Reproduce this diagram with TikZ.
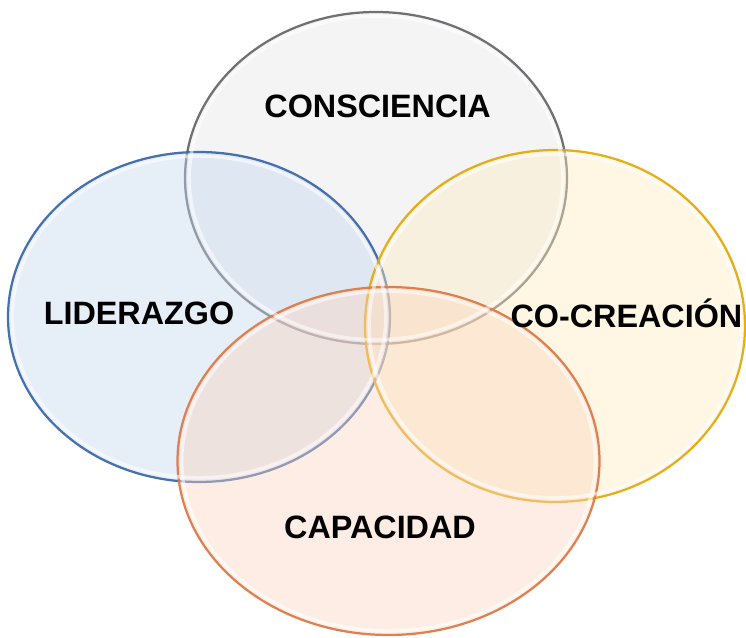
\documentclass[tikz,border=0pt]{standalone}
\usepackage{fontspec}
\setmainfont{Liberation Sans}
\usetikzlibrary{positioning}

\definecolor{grisborde}{RGB}{105,105,108}
\definecolor{grisfondo}{RGB}{228,228,232}
\definecolor{azulborde}{RGB}{60,106,170}
\definecolor{azulfondo}{RGB}{196,214,238}
\definecolor{amarborde}{RGB}{228,170,14}
\definecolor{amarfondo}{RGB}{255,236,190}
\definecolor{naranjaborde}{RGB}{222,122,72}
\definecolor{naranjafondo}{RGB}{251,212,190}

\tikzset{
  burbuja/.style={line width=1.6pt, fill opacity=0.42, draw opacity=0.95},
  brillo/.style={line width=2.5pt, white, opacity=0.55},
  etiqueta/.style={font=\bfseries\fontsize{23}{27}\selectfont, text=black, inner sep=0pt}
}

\begin{document}
\begin{tikzpicture}
    \useasboundingbox (0,0) rectangle (18.65,15.925);
    \coordinate (cC) at (9.40,11.475);
    \coordinate (cL) at (4.975,8.0);
    \coordinate (cR) at (13.875,7.775);
    \coordinate (cP) at (9.7125,4.4);
    % fondos y bordes
    \draw[burbuja, draw=grisborde, fill=grisfondo] (cC) ellipse (4.775cm and 4.15cm);
    \draw[burbuja, draw=azulborde, fill=azulfondo] (cL) ellipse (4.775cm and 4.125cm);
    \draw[burbuja, draw=amarborde, fill=amarfondo] (cR) ellipse (4.75cm and 4.4cm);
    \draw[burbuja, draw=naranjaborde, fill=naranjafondo] (cP) ellipse (5.275cm and 4.35cm);
    % brillo interior
    \draw[brillo] (cC) ellipse (4.67cm and 4.045cm);
    \draw[brillo] (cL) ellipse (4.67cm and 4.02cm);
    \draw[brillo] (cR) ellipse (4.645cm and 4.295cm);
    \draw[brillo] (cP) ellipse (5.17cm and 4.245cm);
    % textos
    \node[etiqueta] (consciencia) at (9.44,13.275) {CONSCIENCIA};
    \node[etiqueta] (liderazgo) at (3.475,8.1) {LIDERAZGO};
    \node[etiqueta] (cocreacion) at (15.66,8.1) {CO-CREACIÓN};
    \node[etiqueta] (capacidad) at (9.5,2.75) {CAPACIDAD};
\end{tikzpicture}
\end{document}
